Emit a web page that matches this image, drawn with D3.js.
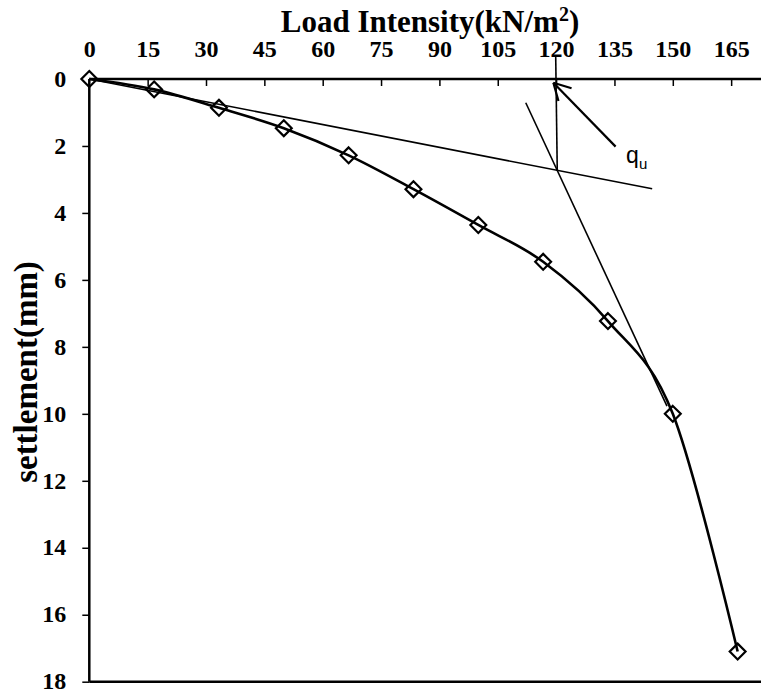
<!DOCTYPE html>
<html>
<head>
<meta charset="utf-8">
<script src="https://cdn.jsdelivr.net/npm/d3@7"></script>
<style>
  html, body { margin: 0; padding: 0; background: #fff; }
  svg { display: block; }
</style>
</head>
<body>
<svg id="chart" width="761" height="693"></svg>
<script>
// Plate load test: load intensity vs settlement
const loads = [0, 16.67, 33.33, 50, 66.67, 83.33, 100, 116.67, 133.33, 150, 166.67];
const settlements = [0, 0.31, 0.86, 1.47, 2.28, 3.29, 4.36, 5.46, 7.23, 10.0, 17.1];

const xTicks = [0, 15, 30, 45, 60, 75, 90, 105, 120, 135, 150, 165];
const yTicks = [0, 2, 4, 6, 8, 10, 12, 14, 16, 18];

// Tangent construction for the ultimate bearing capacity
const initialTangent = [[0, 0], [144.7, 3.28]];
const finalTangent = [[112.2, 0.71], [148.5, 9.77]];
const quLine = [[119.9, -0.66], [120.3, 2.75]];
const quArrow = [[135.3, 2.02], [119.3, 0.11]];
const quLabelPos = [138, 2.5];

const svg = d3.select("#chart");
const plotLeft = 89.3, plotTop = 79, plotRight = 789.5, plotBottom = 681.7;

const x = d3.scaleLinear().domain([0, 180]).range([plotLeft, plotRight]);
const y = d3.scaleLinear().domain([0, 18]).range([plotTop, plotBottom]);

const serif = "'Liberation Serif', 'Times New Roman', serif";

// Top x axis (ticks point into the plot)
const xAxis = svg.append("g")
  .attr("transform", `translate(0,${plotTop})`)
  .call(d3.axisTop(x).tickValues(xTicks).tickSize(-7).tickPadding(0).tickFormat(d3.format("d")));
xAxis.select(".domain").attr("stroke", "#000").attr("stroke-width", 2.5)
  .attr("d", `M${plotLeft},0H761`);
xAxis.selectAll(".tick line").attr("stroke", "#000").attr("stroke-width", 1.5)
  .filter(d => d === 0).remove();
xAxis.selectAll(".tick text")
  .attr("y", -22)
  .attr("font-family", serif).attr("font-weight", "bold").attr("font-size", 24).attr("fill", "#000");

// Left y axis
const yAxis = svg.append("g")
  .attr("transform", `translate(${plotLeft},0)`)
  .call(d3.axisLeft(y).tickValues(yTicks).tickSize(7).tickPadding(16).tickFormat(d3.format("d")));
yAxis.select(".domain").attr("stroke", "#000").attr("stroke-width", 2.5)
  .attr("d", `M0,${plotTop}V${plotBottom}`);
yAxis.selectAll(".tick line").attr("stroke", "#000").attr("stroke-width", 1.5)
  .filter(d => d === 0).remove();
yAxis.selectAll(".tick text")
  .attr("dy", "0.3em")
  .attr("font-family", serif).attr("font-weight", "bold").attr("font-size", 24).attr("fill", "#000");

// Bottom frame line
svg.append("line")
  .attr("x1", plotLeft).attr("x2", 761).attr("y1", plotBottom).attr("y2", plotBottom)
  .attr("stroke", "#000").attr("stroke-width", 2.5);

// Axis titles
const title = svg.append("text")
  .attr("x", 430).attr("y", 32)
  .attr("text-anchor", "middle")
  .attr("font-family", serif).attr("font-weight", "bold").attr("font-size", 31)
  .attr("fill", "#000");
title.append("tspan").text("Load Intensity(kN/m");
title.append("tspan").text("2").attr("font-size", 20).attr("dy", -11);
title.append("tspan").text(")").attr("dy", 11);

svg.append("text")
  .attr("transform", `translate(37,372) rotate(-90)`)
  .attr("text-anchor", "middle")
  .attr("font-family", serif).attr("font-weight", "bold").attr("font-size", 33)
  .attr("fill", "#000")
  .text("settlement(mm)");

const pts = loads.map((l, i) => [l, settlements[i]]);
const straight = d3.line().x(d => x(d[0])).y(d => y(d[1]));

// Tangent lines and the vertical through their intersection
[initialTangent, finalTangent, quLine].forEach(seg => {
  svg.append("path").attr("d", straight(seg))
    .attr("fill", "none").attr("stroke", "#000").attr("stroke-width", 1.6);
});

// Arrow pointing at q_u, with an open head
svg.append("path").attr("d", straight(quArrow))
  .attr("fill", "none").attr("stroke", "#000").attr("stroke-width", 2.2);
const tip = quArrow[1], tail = quArrow[0];
const ang = Math.atan2(y(tail[1]) - y(tip[1]), x(tail[0]) - x(tip[0]));
[-0.5, 0.5].forEach(da => {
  svg.append("line")
    .attr("x1", x(tip[0])).attr("y1", y(tip[1]))
    .attr("x2", x(tip[0]) + 19 * Math.cos(ang + da))
    .attr("y2", y(tip[1]) + 19 * Math.sin(ang + da))
    .attr("stroke", "#000").attr("stroke-width", 2.2);
});

// q_u label
const qu = svg.append("text")
  .attr("x", x(quLabelPos[0])).attr("y", y(quLabelPos[1]))
  .attr("font-family", "'Liberation Sans', Arial, sans-serif").attr("font-size", 23)
  .attr("fill", "#000");
qu.append("tspan").text("q");
qu.append("tspan").text("u").attr("font-size", 15).attr("dy", 6);

// Load-settlement curve
svg.append("path")
  .attr("d", d3.line().x(d => x(d[0])).y(d => y(d[1])).curve(d3.curveCardinal.tension(0))(pts))
  .attr("fill", "none").attr("stroke", "#000").attr("stroke-width", 2.6);

// Diamond markers
const diamond = d3.symbol().type(d3.symbolDiamond2).size(160);
svg.selectAll(".pt").data(pts).join("path")
  .attr("class", "pt")
  .attr("transform", d => `translate(${x(d[0])},${y(d[1])})`)
  .attr("d", diamond)
  .attr("fill", "none").attr("stroke", "#000").attr("stroke-width", 2.2);
</script>
</body>
</html>
